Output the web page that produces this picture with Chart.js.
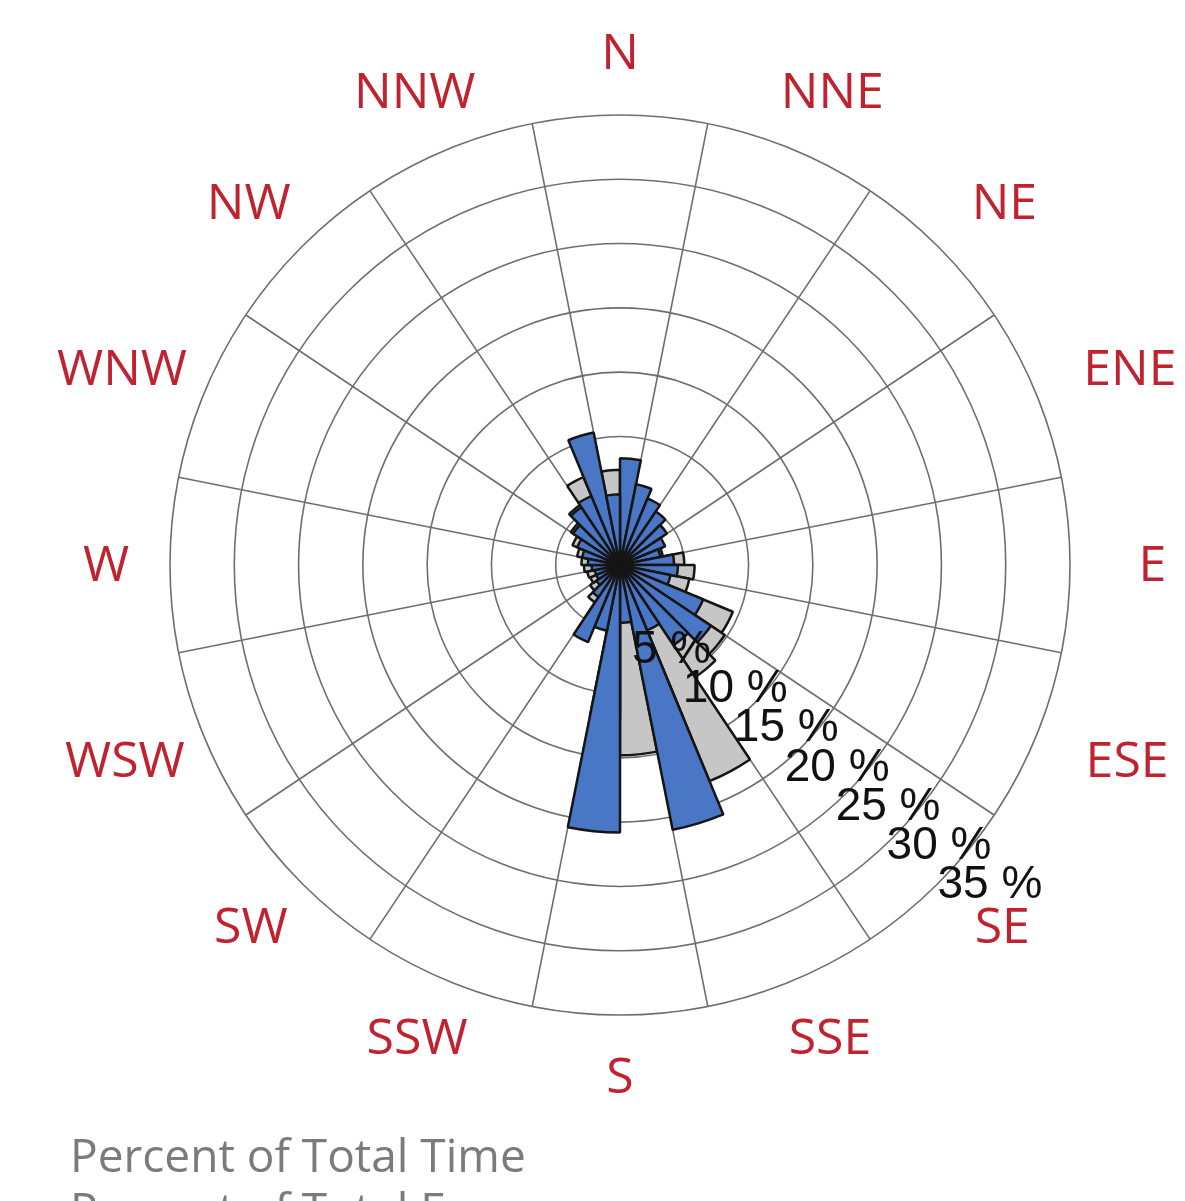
<!DOCTYPE html>
<html>
<head>
<meta charset="utf-8">
<title>Wind rose</title>
<script src="https://cdn.jsdelivr.net/npm/chart.js@4.4.1/dist/chart.umd.min.js"></script>
<style>
  html, body { margin: 0; padding: 0; background: #ffffff; overflow: hidden; }
  #wrap { position: relative; width: 1185px; height: 1201px; }
  #rose { position: absolute; left: 0; top: 0; }
  .legend {
    position: absolute; left: 70px; top: 1127px;
    font-family: "Open Sans", sans-serif; font-size: 46px; line-height: 54px;
    color: #7b7b7b; white-space: nowrap;
  }
</style>
</head>
<body>
<div id="wrap">
  <canvas id="rose" width="1185" height="1201"></canvas>
  <div class="legend" id="legend"></div>
</div>
<script>
// 32 direction sectors of 11.25°, labelled by their centre bearing
const sectors = ['5.6°', '16.9°', '28.1°', '39.4°', '50.6°', '61.9°', '73.1°', '84.4°',
                 '95.6°', '106.9°', '118.1°', '129.4°', '140.6°', '151.9°', '163.1°', '174.4°',
                 '185.6°', '196.9°', '208.1°', '219.4°', '230.6°', '241.9°', '253.1°', '264.4°',
                 '275.6°', '286.9°', '298.1°', '309.4°', '320.6°', '331.9°', '343.1°', '354.4°'];

// Percent of total time per sector
const timePct = [6.0, 5.2, 4.8, 4.4, 4.0, 3.6, 3.4, 5.0,
                 5.8, 5.5, 9.5, 9.8, 10.5, 18.2, 13.0, 14.8,
                 12.0, 4.5, 5.0, 3.5, 2.8, 2.5, 2.6, 2.8,
                 3.0, 3.4, 4.0, 4.6, 5.6, 7.4, 7.6, 7.4];

// Percent of total energy per sector
const energyPct = [8.3, 6.4, 5.6, 5.0, 4.4, 3.8, 3.2, 4.2,
                   4.5, 4.0, 7.0, 8.5, 7.5, 5.5, 21.0, 4.5,
                   20.8, 5.2, 6.5, 3.0, 2.2, 2.0, 2.0, 2.2,
                   2.5, 3.0, 3.6, 4.4, 5.4, 5.8, 10.5, 5.5];

// Compass points written round the rose
const directions = ['N', 'NNE', 'NE', 'ENE', 'E', 'ESE', 'SE', 'SSE',
                    'S', 'SSW', 'SW', 'WSW', 'W', 'WNW', 'NW', 'NNW'];

// Percentage rings
const ringTicks = [5, 10, 15, 20, 25, 30, 35];

const seriesNames = ['Percent of Total Time', 'Percent of Total Energy'];

const gridColor = '#6e6e6e';
const dirColor = '#c0232f';

// Spokes along the sector boundaries between compass points, and the labels
const roseDecor = {
  id: 'roseDecor',
  beforeDatasetsDraw(chart) {
    const s = chart.scales.r;
    const ctx = chart.ctx;
    const R = s.getDistanceFromCenterForValue(ringTicks[ringTicks.length - 1]);
    const step = 2 * Math.PI / directions.length;
    ctx.save();
    ctx.strokeStyle = gridColor;
    ctx.lineWidth = 1.6;
    directions.forEach((d, i) => {
      const a = -Math.PI / 2 + (i + 0.5) * step;
      ctx.beginPath();
      ctx.moveTo(s.xCenter, s.yCenter);
      ctx.lineTo(s.xCenter + R * Math.cos(a), s.yCenter + R * Math.sin(a));
      ctx.stroke();
    });
    ctx.restore();
  },
  afterDatasetsDraw(chart) {
    const s = chart.scales.r;
    const ctx = chart.ctx;
    const R = s.getDistanceFromCenterForValue(ringTicks[ringTicks.length - 1]);
    const step = 2 * Math.PI / directions.length;
    ctx.save();

    // compass point names
    ctx.font = '50px "Open Sans"';
    ctx.fillStyle = dirColor;
    ctx.textAlign = 'center';
    ctx.textBaseline = 'middle';
    directions.forEach((d, i) => {
      const a = -Math.PI / 2 + i * step;
      const cx = Math.cos(a), cy = Math.sin(a);
      const hw = ctx.measureText(d).width / 2;
      const rr = R + 62;
      const x = s.xCenter + cx * rr + cx * hw * 0.6 + 12 * Math.abs(cx);
      const y = s.yCenter + cy * rr + 2;
      ctx.fillText(d, x, y);
    });

    // ring values, stepped out towards the south-east
    ctx.font = '46px "Liberation Sans"';
    ctx.fillStyle = '#111111';
    ctx.textAlign = 'left';
    ctx.textBaseline = 'middle';
    const ux = Math.cos(37.6 * Math.PI / 180), uy = Math.sin(37.6 * Math.PI / 180);
    ringTicks.forEach(v => {
      const d = s.getDistanceFromCenterForValue(v);
      ctx.fillText(v + ' %', s.xCenter + d * ux - 39, s.yCenter + d * uy + 46);
    });
    ctx.restore();
  }
};

const ctx = document.getElementById('rose').getContext('2d');
new Chart(ctx, {
  type: 'polarArea',
  data: {
    labels: sectors,
    datasets: [
      {
        label: seriesNames[0],
        data: timePct,
        backgroundColor: '#c6c6c6',
        borderColor: '#151515',
        borderWidth: 2.5,
        order: 1
      },
      {
        label: seriesNames[1],
        data: energyPct,
        backgroundColor: '#4a76c6',
        borderColor: '#151515',
        borderWidth: 2.5,
        order: 0
      }
    ]
  },
  options: {
    responsive: false,
    animation: false,
    devicePixelRatio: 1,
    layout: { padding: { left: 170, right: 115, top: 115, bottom: 186 } },
    plugins: {
      legend: { display: false },
      tooltip: { enabled: false }
    },
    scales: {
      r: {
        min: 0,
        max: 35,
        ticks: { display: false, stepSize: 5 },
        grid: { circular: true, color: gridColor, lineWidth: 1.6 },
        angleLines: { display: false },
        pointLabels: { display: false }
      }
    }
  },
  plugins: [roseDecor]
});

document.getElementById('legend').innerHTML =
  seriesNames.map(n => '<div>' + n + '</div>').join('');
</script>
</body>
</html>
